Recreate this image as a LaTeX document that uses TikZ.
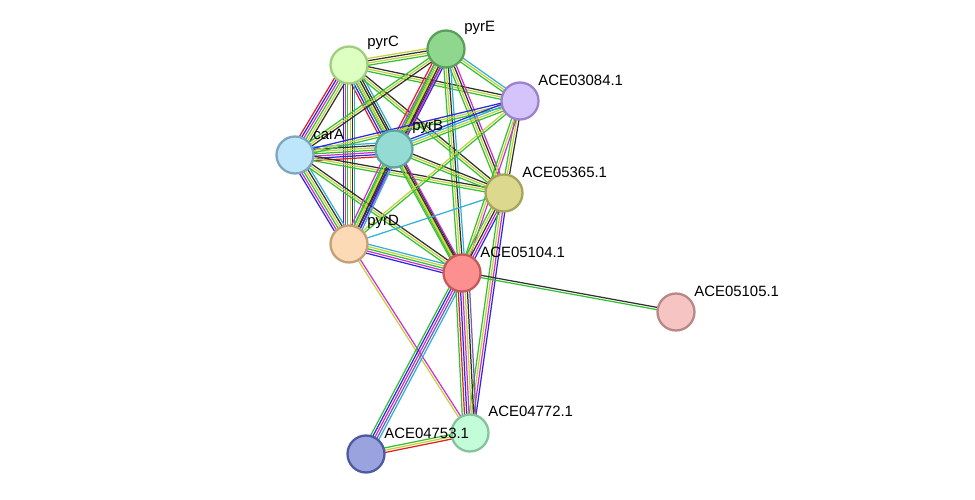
\documentclass[tikz,border=0pt]{standalone}
\usepackage{fontspec}
\setmainfont{Liberation Sans}
\usetikzlibrary{calc}
\definecolor{qg}{HTML}{33C033}
\definecolor{qr}{HTML}{E02020}
\definecolor{qb}{HTML}{2A2AE0}
\definecolor{qk}{HTML}{303030}
\definecolor{qm}{HTML}{D030D0}
\definecolor{qc}{HTML}{30B0D8}
\definecolor{qy}{HTML}{C4D33A}
\definecolor{qp}{HTML}{7060B0}
\tikzset{
  prot/.style={circle, minimum size=0.74cm, inner sep=0pt, line width=1.3pt},
  lbl/.style={anchor=west, font=\fontsize{8.5}{10}\selectfont, inner sep=0pt}
}
\newcommand\medge[4]{%
  \foreach \c [count=\i] in {#4} {%
    \pgfmathsetmacro\off{(\i-(#3+1)/2)*1.3}
    \draw[color=\c, line width=0.7pt] ($(#1)!\off pt!90:(#2)$) -- ($(#2)!\off pt!-90:(#1)$);
  }}
\begin{document}
\begin{tikzpicture}[x=0.02cm,y=-0.02cm]
\useasboundingbox (0,0) rectangle (975,500);
\coordinate (pyrC) at (349,65);
\coordinate (pyrE) at (446,49);
\coordinate (A3084) at (520,101);
\coordinate (carA) at (295,155);
\coordinate (pyrB) at (394,149);
\coordinate (A5365) at (504,193);
\coordinate (pyrD) at (349,244);
\coordinate (A5104) at (462,273);
\coordinate (A5105) at (676,312);
\coordinate (A4753) at (366,454);
\coordinate (A4772) at (470,433);
% edges
\medge{pyrC}{pyrE}{4}{qg,qy,qk,qy}
\medge{pyrC}{carA}{6}{qr,qb,qm,qg,qy,qk}
\medge{pyrC}{pyrB}{7}{qr,qb,qm,qg,qy,qk,qc}
\medge{pyrC}{pyrD}{6}{qb,qm,qg,qy,qk,qc}
\medge{pyrC}{A3084}{3}{qg,qy,qk}
\medge{pyrC}{A5365}{3}{qg,qy,qk}
\medge{pyrC}{A5104}{3}{qg,qy,qk}
\medge{pyrE}{carA}{3}{qg,qy,qk}
\medge{pyrE}{pyrB}{6}{qr,qm,qg,qy,qk,qb}
\medge{pyrE}{pyrD}{4}{qg,qy,qk,qm}
\medge{pyrE}{A3084}{3}{qg,qy,qc}
\medge{pyrE}{A5365}{4}{qg,qy,qk,qm}
\medge{pyrE}{A5104}{4}{qg,qy,qk,qc}
\medge{carA}{pyrB}{7}{qr,qb,qm,qg,qy,qk,qc}
\medge{carA}{pyrD}{6}{qb,qm,qg,qy,qk,qc}
\medge{carA}{A3084}{3}{qg,qy,qb}
\medge{carA}{A5365}{3}{qg,qy,qk}
\medge{carA}{A5104}{3}{qg,qy,qk}
\medge{pyrB}{pyrD}{6}{qm,qg,qy,qk,qb,qc}
\medge{pyrB}{A3084}{4}{qg,qy,qc,qb}
\medge{pyrB}{A5365}{3}{qg,qy,qk}
\medge{pyrB}{A5104}{4}{qg,qy,qk,qm}
\medge{pyrD}{A5365}{1}{qc}
\medge{pyrD}{A3084}{2}{qg,qy}
\medge{pyrD}{A5104}{5}{qb,qm,qg,qy,qc}
\medge{pyrD}{A4772}{2}{qy,qm}
\medge{A3084}{A5365}{3}{qg,qy,qk}
\medge{A3084}{A5104}{3}{qg,qy,qm}
\medge{A5365}{A5104}{5}{qg,qy,qk,qm,qb}
\medge{A5365}{A4772}{4}{qg,qy,qm,qb}
\medge{A5104}{A5105}{2}{qg,qk}
\medge{A5104}{A4753}{5}{qg,qb,qm,qp,qc}
\medge{A5104}{A4772}{7}{qg,qr,qb,qm,qy,qk,qp}
\medge{A4753}{A4772}{3}{qr,qy,qg}
% nodes
\node[prot, fill={rgb,255:red,221;green,255;blue,192}, draw={rgb,255:red,160;green,205;blue,130}] (npyrC) at (pyrC) {};
\node[prot, fill={rgb,255:red,143;green,214;blue,143}, draw={rgb,255:red,90;green,160;blue,90}] (npyrE) at (pyrE) {};
\node[prot, fill={rgb,255:red,213;green,196;blue,251}, draw={rgb,255:red,155;green,130;blue,204}] (nA3084) at (A3084) {};
\node[prot, fill={rgb,255:red,189;green,230;blue,251}, draw={rgb,255:red,127;green,166;blue,192}] (ncarA) at (carA) {};
\node[prot, fill={rgb,255:red,148;green,220;blue,211}, draw={rgb,255:red,95;green,165;blue,157}] (npyrB) at (pyrB) {};
\node[prot, fill={rgb,255:red,220;green,217;blue,143}, draw={rgb,255:red,166;green,163;blue,91}] (nA5365) at (A5365) {};
\node[prot, fill={rgb,255:red,252;green,218;blue,181}, draw={rgb,255:red,196;green,159;blue,120}] (npyrD) at (pyrD) {};
\node[prot, fill={rgb,255:red,252;green,143;blue,143}, draw={rgb,255:red,196;green,90;blue,90}] (nA5104) at (A5104) {};
\node[prot, fill={rgb,255:red,247;green,196;blue,196}, draw={rgb,255:red,184;green,135;blue,135}] (nA5105) at (A5105) {};
\node[prot, fill={rgb,255:red,154;green,163;blue,222}, draw={rgb,255:red,77;green,90;blue,160}] (nA4753) at (A4753) {};
\node[prot, fill={rgb,255:red,194;green,252;blue,216}, draw={rgb,255:red,132;green,195;blue,156}] (nA4772) at (A4772) {};
% labels
\node[lbl] (lpyrC) at (367,43) {pyrC};
\node[lbl] (lpyrE) at (464,28) {pyrE};
\node[lbl] (lA3084) at (538,80) {ACE03084.1};
\node[lbl] (lcarA) at (313,134) {carA};
\node[lbl] (lpyrB) at (412,127) {pyrB};
\node[lbl] (lA5365) at (522,172) {ACE05365.1};
\node[lbl] (lpyrD) at (367,222) {pyrD};
\node[lbl] (lA5104) at (480,252) {ACE05104.1};
\node[lbl] (lA5105) at (694,291) {ACE05105.1};
\node[lbl] (lA4753) at (384,433) {ACE04753.1};
\node[lbl] (lA4772) at (488,411) {ACE04772.1};
\end{tikzpicture}
\end{document}
